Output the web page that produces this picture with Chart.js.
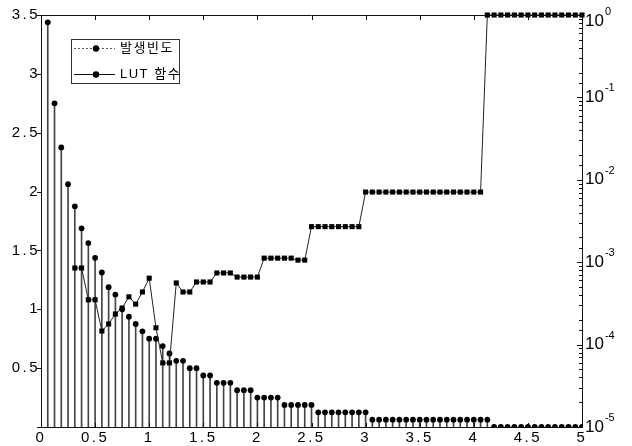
<!DOCTYPE html>
<html>
<head>
<meta charset="utf-8">
<script src="https://cdn.jsdelivr.net/npm/chart.js@4.4.1/dist/chart.umd.min.js"></script>
<style>
	html, body { margin: 0; padding: 0; background: #fff; }
	#wrap { width: 632px; height: 446px; }
</style>
</head>
<body>
<div id="wrap"><canvas id="lutChart" width="632" height="446"></canvas></div>
<script>
// bin centres (x axis)
const binCenters = [
	0.0625, 0.125, 0.1875, 0.25, 0.3125, 0.375, 0.4375, 0.5, 0.5625, 0.625, 0.6875, 0.75, 0.8125, 0.875, 0.9375, 1.0,
	1.0625, 1.125, 1.1875, 1.25, 1.3125, 1.375, 1.4375, 1.5, 1.5625, 1.625, 1.6875, 1.75, 1.8125, 1.875, 1.9375, 2.0,
	2.0625, 2.125, 2.1875, 2.25, 2.3125, 2.375, 2.4375, 2.5, 2.5625, 2.625, 2.6875, 2.75, 2.8125, 2.875, 2.9375, 3.0,
	3.0625, 3.125, 3.1875, 3.25, 3.3125, 3.375, 3.4375, 3.5, 3.5625, 3.625, 3.6875, 3.75, 3.8125, 3.875, 3.9375, 4.0,
	4.0625, 4.125, 4.1875, 4.25, 4.3125, 4.375, 4.4375, 4.5, 4.5625, 4.625, 4.6875, 4.75, 4.8125, 4.875, 4.9375, 5.0
];

// 발생빈도 (left, linear axis) - stems with round markers
const freqValues = [
	3.4375, 2.75, 2.375, 2.0625, 1.875, 1.6875, 1.5625, 1.4375, 1.3125, 1.1875, 1.125, 1.0, 0.9375, 0.875, 0.8125, 0.75,
	0.75, 0.6875, 0.625, 0.5625, 0.5625, 0.5, 0.5, 0.4375, 0.4375, 0.375, 0.375, 0.375, 0.3125, 0.3125, 0.3125, 0.25,
	0.25, 0.25, 0.25, 0.1875, 0.1875, 0.1875, 0.1875, 0.1875, 0.125, 0.125, 0.125, 0.125, 0.125, 0.125, 0.125, 0.125,
	0.0625, 0.0625, 0.0625, 0.0625, 0.0625, 0.0625, 0.0625, 0.0625, 0.0625, 0.0625, 0.0625, 0.0625, 0.0625, 0.0625, 0.0625, 0.0625,
	0.0625, 0.0625, 0, 0, 0, 0, 0, 0, 0, 0, 0, 0, 0, 0, 0, 0
];

// LUT 함수 (right, log axis) - square markers joined by a line
const lutValues = [
	null, null, null, null, 8.5e-4, 8.5e-4, 3.5e-4, 3.5e-4, 1.46e-4, 1.78e-4, 2.35e-4, 2.78e-4, 3.8e-4, 3.1e-4, 4.35e-4, 6.4e-4,
	1.6e-4, 6.0e-5, 6.0e-5, 5.6e-4, 4.35e-4, 4.35e-4, 5.75e-4, 5.75e-4, 5.75e-4, 7.4e-4, 7.4e-4, 7.4e-4, 6.6e-4, 6.6e-4, 6.6e-4, 6.6e-4,
	1.12e-3, 1.12e-3, 1.12e-3, 1.12e-3, 1.12e-3, 1.06e-3, 1.06e-3, 2.7e-3, 2.7e-3, 2.7e-3, 2.7e-3, 2.7e-3, 2.7e-3, 2.7e-3, 2.7e-3, 7.1e-3,
	7.1e-3, 7.1e-3, 7.1e-3, 7.1e-3, 7.1e-3, 7.1e-3, 7.1e-3, 7.1e-3, 7.1e-3, 7.1e-3, 7.1e-3, 7.1e-3, 7.1e-3, 7.1e-3, 7.1e-3, 7.1e-3,
	7.1e-3, 1, 1, 1, 1, 1, 1, 1, 1, 1, 1, 1, 1, 1, 1, 1
];

const xTicks = [0, 0.5, 1, 1.5, 2, 2.5, 3, 3.5, 4, 4.5, 5];
const yTicks = [0, 0.5, 1, 1.5, 2, 2.5, 3, 3.5];
const logTickExponents = [0, -1, -2, -3, -4, -5];
const legendLabels = ['발생빈도', 'LUT 함수'];

const tickFont = '"Liberation Sans", Arial, sans-serif';

function pairs(values) {
	return binCenters.map((x, i) => ({ x: x, y: values[i] }));
}

const framePlugin = {
	id: 'frame',
	beforeDraw(chart) {
		// wide letter spacing of the scanned axis numbers
		chart.ctx.letterSpacing = '2.5px';
	},
	afterDraw(chart) {
		const ctx = chart.ctx;
		const a = chart.chartArea;
		const sx = chart.scales.x, sy = chart.scales.y, sr = chart.scales.y1;

		ctx.save();
		ctx.letterSpacing = '0px';
		ctx.strokeStyle = '#111';
		ctx.lineWidth = 1;
		ctx.beginPath();
		ctx.moveTo(a.left, a.top + 0.5);
		ctx.lineTo(a.right, a.top + 0.5);
		sx.ticks.forEach((t) => {
			const px = Math.round(sx.getPixelForValue(t.value)) + 0.5;
			ctx.moveTo(px, a.top);
			ctx.lineTo(px, a.top + 5);
			ctx.moveTo(px, a.bottom);
			ctx.lineTo(px, a.bottom - 4);
		});
		sy.ticks.forEach((t) => {
			const py = Math.round(sy.getPixelForValue(t.value)) + 0.5;
			ctx.moveTo(a.left - 4, py);
			ctx.lineTo(a.left, py);
		});
		sr.ticks.forEach((t) => {
			const lg = Math.log10(t.value);
			const major = Math.abs(lg - Math.round(lg)) < 1e-6;
			const py = Math.round(sr.getPixelForValue(t.value)) + 0.5;
			ctx.moveTo(a.right - (major ? 5 : 3), py);
			ctx.lineTo(a.right, py);
		});
		ctx.stroke();

		// right axis labels 10^n
		ctx.fillStyle = '#000';
		logTickExponents.forEach((n) => {
			const py = sr.getPixelForValue(Math.pow(10, n));
			const yc = Math.max(py, a.top + 6);
			ctx.font = '17px ' + tickFont;
			ctx.textAlign = 'left';
			ctx.textBaseline = 'middle';
			ctx.fillText('10', a.right + 3, yc);
			const w = ctx.measureText('10').width;
			ctx.font = '11px ' + tickFont;
			ctx.textBaseline = 'alphabetic';
			ctx.fillText(n === 0 ? '0' : '-' + Math.abs(n), a.right + 4 + w, yc - 6);
		});

		// legend box
		const bx = 71.5, by = 39.5, bw = 108, bh = 44;
		ctx.fillStyle = '#fff';
		ctx.fillRect(bx, by, bw, bh);
		ctx.strokeStyle = '#333';
		ctx.strokeRect(bx, by, bw, bh);
		ctx.font = '13px ' + tickFont + ', "Noto Sans CJK KR"';
		ctx.letterSpacing = '1.5px';
		ctx.textBaseline = 'middle';
		legendLabels.forEach((label, i) => {
			const ly = 48.5 + i * 26;
			ctx.beginPath();
			ctx.strokeStyle = i === 0 ? '#555' : '#111';
			ctx.setLineDash(i === 0 ? [2, 2] : []);
			ctx.moveTo(74, ly);
			ctx.lineTo(115, ly);
			ctx.stroke();
			ctx.setLineDash([]);
			ctx.beginPath();
			ctx.fillStyle = '#000';
			ctx.arc(96, ly, 3.2, 0, Math.PI * 2);
			ctx.fill();
			ctx.fillText(label, 120, ly);
		});
		ctx.restore();
	}
};

new Chart(document.getElementById('lutChart'), {
	type: 'scatter',
	data: {
		datasets: [
			{
				type: 'bar',
				label: 'stems',
				data: pairs(freqValues),
				yAxisID: 'y',
				backgroundColor: '#444',
				barThickness: 1,
				order: 3,
			},
			{
				type: 'scatter',
				label: legendLabels[0],
				data: pairs(freqValues),
				yAxisID: 'y',
				showLine: false,
				pointStyle: 'circle',
				pointRadius: 2.9,
				pointBackgroundColor: '#000',
				pointBorderWidth: 0,
				order: 2,
			},
			{
				type: 'line',
				label: legendLabels[1],
				data: pairs(lutValues),
				yAxisID: 'y1',
				borderColor: '#222',
				borderWidth: 1,
				pointStyle: 'rect',
				pointRadius: 3.6,
				pointBackgroundColor: '#000',
				pointBorderWidth: 0,
				spanGaps: false,
				tension: 0,
				clip: false,
				order: 1,
			},
		],
	},
	options: {
		responsive: false,
		animation: false,
		events: [],
		layout: { padding: { top: 15, left: 0, right: 0, bottom: 0 } },
		plugins: {
			legend: { display: false },
			tooltip: { enabled: false },
		},
		scales: {
			x: {
				type: 'linear',
				min: 0,
				max: 5,
				offset: false,
				grid: { display: false, drawTicks: false },
				border: { display: true, color: '#111', width: 1 },
				afterBuildTicks: (scale) => { scale.ticks = xTicks.map((v) => ({ value: v })); },
				afterFit: (scale) => { scale.height = 19; },
				ticks: {
					autoSkip: false,
					maxRotation: 0,
					padding: 2,
					color: '#000',
					font: { family: tickFont, size: 15 },
					callback: (v) => String(v),
				},
			},
			y: {
				type: 'linear',
				position: 'left',
				min: 0,
				max: 3.5,
				grid: { display: false, drawTicks: false },
				border: { display: true, color: '#111', width: 1 },
				afterBuildTicks: (scale) => { scale.ticks = yTicks.map((v) => ({ value: v })); },
				afterFit: (scale) => { scale.width = 41; },
				ticks: {
					autoSkip: false,
					padding: 1,
					color: '#000',
					font: { family: tickFont, size: 15 },
					callback: (v) => (v === 0 ? '' : String(v)),
				},
			},
			y1: {
				type: 'logarithmic',
				position: 'right',
				min: 1e-5,
				max: 1,
				grid: { display: false, drawTicks: false },
				border: { display: true, color: '#111', width: 1 },
				afterFit: (scale) => { scale.width = 50; },
				ticks: { display: false, autoSkip: false },
			},
		},
	},
	plugins: [framePlugin],
});
</script>
</body>
</html>
